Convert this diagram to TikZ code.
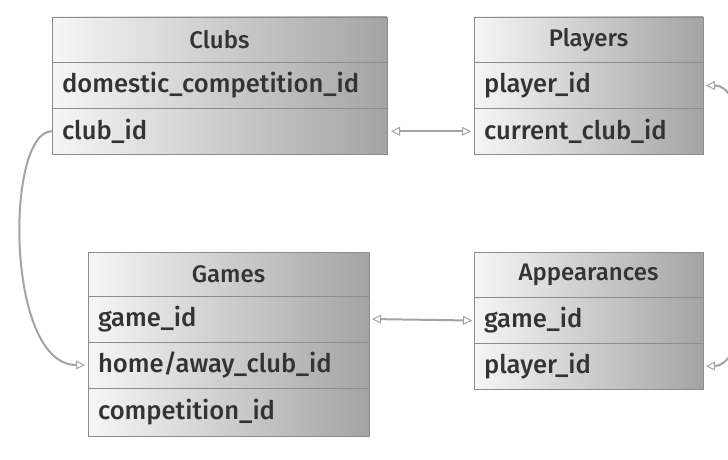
\documentclass[tikz,border=0pt]{standalone}
\usepackage{fontspec}
\setmainfont{Fira Sans}
\IfFontExistsTF{Fira Sans Medium}
  {\newfontfamily\hdrf{Fira Sans Medium}\newfontfamily\rowf{Fira Sans Medium}}
  {\newfontfamily\hdrf{Fira Sans}\newfontfamily\rowf{Fira Sans}}
\usetikzlibrary{arrows.meta}
\definecolor{txt}{HTML}{333333}
\definecolor{bord}{HTML}{8C8C8C}
\definecolor{cellL}{HTML}{F6F6F6}
\definecolor{cellR}{HTML}{A4A4A4}
\definecolor{conn}{HTML}{A4A4A4}
\tikzset{otri/.tip={Triangle[open, length=9pt, width=9pt, line width=1pt]}}
\begin{document}
\begin{tikzpicture}[x=1pt,y=-1pt,
  cell/.style={draw=bord, line width=0.8pt, left color=cellL, right color=cellR,
    anchor=north west, inner xsep=10pt, inner ysep=0pt, text=txt,
    font=\rowf\fontsize{25.6}{28}\selectfont, align=left, outer sep=0pt},
  hdr/.style={cell, align=center, font=\hdrf\fontsize{24}{26}\selectfont},
  link/.style={draw=conn, line width=2pt}
]
\useasboundingbox (0,0) rectangle (728,460);
\fill[white] (0,0) rectangle (728,460);
% Clubs
\node[hdr, text width=315pt, minimum height=45.7pt] (clubs) at (52,17) {Clubs};
\node[cell, text width=315pt, minimum height=45.7pt] (clubs-dom) at (clubs.south west) {domestic\_competition\_id};
\node[cell, text width=315pt, minimum height=45.7pt] (clubs-id) at (clubs-dom.south west) {club\_id};
% Players
\node[hdr, text width=209pt, minimum height=45.7pt] (players) at (474,17) {Players};
\node[cell, text width=209pt, minimum height=45.7pt] (players-id) at (players.south west) {player\_id};
\node[cell, text width=209pt, minimum height=45.7pt] (players-club) at (players-id.south west) {current\_club\_id};
% Games
\node[hdr, text width=261pt, minimum height=44pt] (games) at (88,252) {Games};
\node[cell, text width=261pt, minimum height=46pt] (games-id) at (games.south west) {game\_id};
\node[cell, text width=261pt, minimum height=46pt] (games-club) at (games-id.south west) {home/away\_club\_id};
\node[cell, text width=261pt, minimum height=48pt] (games-comp) at (games-club.south west) {competition\_id};
% Appearances
\node[hdr, text width=209pt, minimum height=45.7pt] (app) at (474,252) {Appearances};
\node[cell, text width=209pt, minimum height=45.7pt] (app-game) at (app.south west) {game\_id};
\node[cell, text width=209pt, minimum height=45.7pt] (app-player) at (app-game.south west) {player\_id};
% connectors
\draw[link, otri-otri, shorten <=4pt, shorten >=3pt] (clubs-id.east) -- (players-club.west);
\draw[link, otri-otri, shorten <=3pt, shorten >=2pt] (games-id.east) -- (app-game.west);
\draw[link, -otri, shorten >=3pt] (clubs-id.west) .. controls (5,131) and (5,365) .. (games-club.west);
\draw[link, otri-otri, shorten <=3pt, shorten >=3pt] (players-id.east) .. controls (765,85) and (765,365) .. (app-player.east);
\end{tikzpicture}
\end{document}
